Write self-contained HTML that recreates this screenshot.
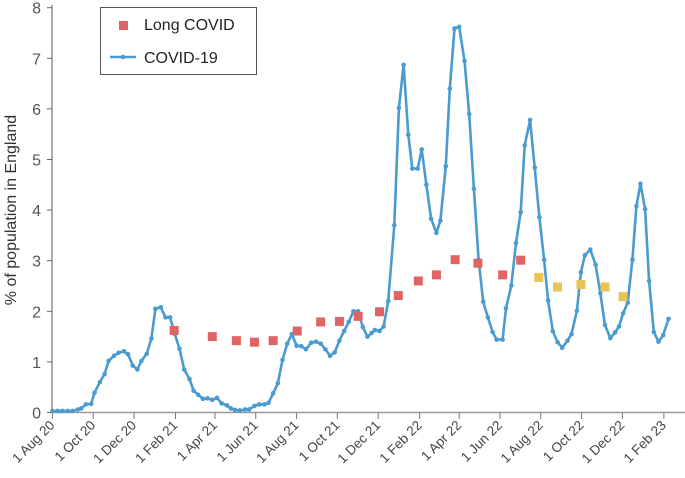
<!DOCTYPE html>
<html><head><meta charset="utf-8"><style>
html,body{margin:0;padding:0;background:#fff}
svg{display:block;font-family:"Liberation Sans",sans-serif}
</style></head><body>
<svg id="chart" width="685" height="478" viewBox="0 0 685 478"></svg>
<script>
const tickLabels=["1 Aug 20","1 Oct 20","1 Dec 20","1 Feb 21","1 Apr 21","1 Jun 21","1 Aug 21","1 Oct 21","1 Dec 21","1 Feb 22","1 Apr 22","1 Jun 22","1 Aug 22","1 Oct 22","1 Dec 22","1 Feb 23"];
const tickDays=[0,61,122,184,243,304,365,426,487,549,608,669,730,791,852,914];
const yTicks=[0,1,2,3,4,5,6,7,8];
const covidDays=[0,8,15,23,30,38,43,50,58,63,71,78,84,92,99,107,113,120,127,133,141,148,154,162,169,176,183,190,197,205,211,218,225,232,239,246,253,261,267,273,280,288,294,302,309,317,323,330,337,344,351,358,365,372,379,387,394,401,408,415,422,429,436,443,450,457,464,471,
477,482,489,495,502,511,518,525,532,538,546,552,559,566,574,580,588,594,601,608,616,623,630,637,644,651,658,664,673,678,686,693,700,706,714,721,728,735,741,748,755,762,770,776,784,790,796,804,812,819,826,834,841,847,853,860,867,873,879,886,892,899,906,913,921];
const covidVals=[0.03,0.03,0.03,0.03,0.03,0.06,0.08,0.16,0.17,0.39,0.60,0.76,1.02,1.12,1.18,1.21,1.15,0.93,0.85,1.02,1.16,1.46,2.05,2.08,1.88,1.88,1.55,1.26,0.85,0.66,0.43,0.35,0.27,0.28,0.25,0.29,0.18,0.14,0.08,0.05,0.04,0.06,0.06,0.13,0.16,0.16,0.19,0.38,0.58,1.04,1.36,1.55,1.32,1.31,1.25,1.38,1.40,1.36,1.25,1.12,1.19,1.42,1.61,1.79,2.00,2.00,1.69,1.50,
1.57,1.63,1.61,1.70,2.20,3.70,6.02,6.87,5.49,4.82,4.82,5.20,4.50,3.83,3.55,3.79,4.87,6.40,7.59,7.62,6.95,5.90,4.42,3.02,2.19,1.88,1.59,1.44,1.44,2.06,2.51,3.35,3.96,5.28,5.78,4.84,3.86,3.02,2.21,1.61,1.39,1.28,1.42,1.55,2.01,2.77,3.11,3.22,2.92,2.36,1.73,1.47,1.58,1.70,1.96,2.17,3.02,4.08,4.52,4.02,2.60,1.59,1.40,1.53,1.85];
const longDays=[182,239,275,302,330,366,401,429,457,489,517,547,574,602,636,673,700];
const longVals=[1.62,1.50,1.42,1.39,1.42,1.61,1.79,1.80,1.90,1.99,2.31,2.60,2.72,3.02,2.95,2.72,3.01];
const longDays2=[727,755,790,826,853];
const longVals2=[2.67,2.48,2.53,2.48,2.29];

const svg=document.getElementById('chart');
const NS='http://www.w3.org/2000/svg';
const X0=52.4,PXD=0.669,Y0=412.5,PYU=50.6;
function xs(d){return X0+d*PXD;}
function ys(v){return Y0-v*PYU;}
function mk(tag,attrs,parent){const e=document.createElementNS(NS,tag);for(const k in attrs)e.setAttribute(k,attrs[k]);(parent||svg).appendChild(e);return e;}

// axes
let ax=mk('line',{x1:52,y1:5,x2:52,y2:413,stroke:'#555','stroke-width':1});


let bx=mk('line',{x1:52,y1:412.5,x2:685,y2:412.5,stroke:'#999','stroke-width':1.5});



yTicks.forEach(v=>{
  const t=mk('line',{x1:47,x2:52,y1:ys(v),y2:ys(v),stroke:'#666'});
  
  
  const l=mk('text',{x:41,y:ys(v)+6,'text-anchor':'end','font-size':16,fill:'#555'});
  l.textContent=v;
  
  
});
tickDays.forEach((d,i)=>{
  const x=xs(d);
  const t=mk('line',{x1:x,x2:x,y1:412.5,y2:419,stroke:'#777'});
  
  
  const l=mk('text',{x:x+3,y:426,'text-anchor':'end','font-size':13.5,fill:'#444',transform:`rotate(-45 ${x+3} 426)`});
  l.textContent=tickLabels[i];
  
  
});
const yt=mk('text',{x:16,y:210,'text-anchor':'middle','font-size':16,fill:'#333',transform:'rotate(-90 16 210)'});
yt.textContent='% of population in England';



// covid line
const pts=covidDays.map((d,i)=>xs(d).toFixed(1)+','+ys(covidVals[i]).toFixed(1)).join(' ');
const pl=mk('polyline',{points:pts,fill:'none',stroke:'#4a9bd0','stroke-width':2.6,'stroke-linejoin':'round'});


covidDays.forEach((d,i)=>{
  const c=mk('circle',{cx:xs(d),cy:ys(covidVals[i]),r:2.3,fill:'#4a9bd0'});
  
  
});
function squares(days,vals,col,name){
  days.forEach((d,i)=>{
    const r=mk('rect',{x:xs(d)-4.5,y:ys(vals[i])-4.5,width:9,height:9,fill:col});
    
    
  });
}
squares(longDays,longVals,'#e06464','long-covid-point');
squares(longDays2,longVals2,'#e8c452','long-covid-point-yellow');

// legend
const lg=mk('g',{});


mk('rect',{x:100.5,y:7.5,width:156,height:67,fill:'#fff',stroke:'#555','stroke-width':1},lg);
const ls=mk('rect',{x:119,y:21,width:9,height:9,fill:'#e06464'},lg);


const lt1=mk('text',{x:144,y:30,'font-size':16,fill:'#222'},lg);
lt1.textContent='Long COVID';


const ll=mk('line',{x1:110,x2:136,y1:57,y2:57,stroke:'#4a9bd0','stroke-width':2.6},lg);


mk('circle',{cx:123,cy:57,r:2.3,fill:'#4a9bd0'},lg);
const lt2=mk('text',{x:144,y:63,'font-size':16,fill:'#222'},lg);
lt2.textContent='COVID-19';


</script>
</body></html>
